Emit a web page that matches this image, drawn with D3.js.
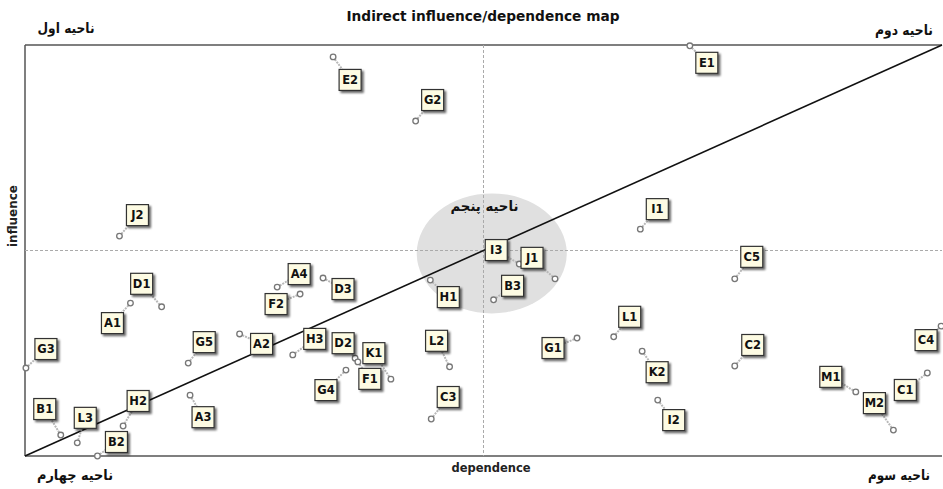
<!DOCTYPE html>
<html><head><meta charset="utf-8">
<script src="https://cdn.jsdelivr.net/npm/d3@7/dist/d3.min.js"></script>
<style>body{margin:0;background:#fff}svg{display:block}</style>
</head><body>
<svg id="c" width="943" height="489"></svg>
<script>
// ---- data ----
const variables  = ["E2","G2","E1","J2","D1","A1","A4","F2","D3","I3","J1","B3","H1","I1","C5","L1","G1","K2","I2","C2","M1","M2","C1","C4","G3","G5","A2","H3","D2","K1","F1","G4","L2","C3","A3","H2","B2","B1","L3"];
const dependence = [33.6,42.6,72.5,10.3,14.9,11.5,27.5,30.0,32.5,53.9,57.8,51.1,44.2,67.1,77.4,64.2,60.2,67.3,69.0,77.4,90.6,94.7,98.4,99.9,0.1,17.8,23.4,29.2,36.0,39.9,36.3,35.0,46.3,44.3,18.0,10.7,7.9,3.9,5.7];
const influence  = [97.1,81.5,99.8,53.5,36.3,37.2,41.1,39.4,43.3,46.7,43.1,38.0,42.8,55.2,43.1,29.0,28.7,25.5,13.6,21.9,15.6,6.3,20.2,31.6,21.4,22.6,29.7,24.6,23.8,18.7,22.9,20.9,21.7,9.0,14.8,7.3,0.0,5.1,3.2];
const zoneNames  = ["ناحیه اول","ناحیه دوم","ناحیه سوم","ناحیه چهارم","ناحیه پنجم"];
const titleText  = "Indirect influence/dependence map";
const xTitle = "dependence", yTitle = "influence";

// ---- layout (label offsets in px, relative to each point) ----
const labelDx = [17,17,17,18,-20,-18,22,-24,20,-23,-23,19,18,17,17,16,-24,15,16,18,-25,-19,-22,-15,20,16,22,22,-12,-17,12,-20,-13,17,13,15,19,-16,8];
const labelDy = [23,-21,17,-21,-23,20,-13,10,11,-14,-21,-14,17,-20,-22,-20,10,21,20,-21,-15,-27,17,14,-19,-21,10,-16,-15,-26,17,20,-26,-22,22,-25,-14,-26,-25];

const svg = d3.select("#c");
const L = 25, R = 942, T = 45, B = 456;
const x = d3.scaleLinear().domain([0,100]).range([L,R]);
const y = d3.scaleLinear().domain([0,100]).range([B,T]);
const mid = 50;

// shadow filter
const defs = svg.append("defs");
const f = defs.append("filter").attr("id","sh").attr("x","-30%").attr("y","-30%").attr("width","170%").attr("height","170%");
f.append("feGaussianBlur").attr("in","SourceAlpha").attr("stdDeviation",1.2).attr("result","b");
f.append("feOffset").attr("in","b").attr("dx",2).attr("dy",2).attr("result","o");
f.append("feComponentTransfer").attr("in","o").attr("result","o2").append("feFuncA").attr("type","linear").attr("slope",0.6);
const m = f.append("feMerge"); m.append("feMergeNode").attr("in","o2"); m.append("feMergeNode").attr("in","SourceGraphic");

// ellipse for zone 5
svg.append("ellipse").attr("cx",x(50.9)).attr("cy",y(49.3)).attr("rx",75).attr("ry",60).attr("fill","#e0e0e0");

// axes frame
svg.append("line").attr("x1",L).attr("x2",R).attr("y1",T).attr("y2",T).attr("stroke","#555").attr("stroke-width",1.5);
svg.append("line").attr("x1",L).attr("x2",R).attr("y1",B).attr("y2",B).attr("stroke","#555").attr("stroke-width",1.5);
svg.append("line").attr("x1",L).attr("x2",L).attr("y1",T).attr("y2",B).attr("stroke","#555").attr("stroke-width",1.5);

// mid dashed lines
svg.append("line").attr("x1",x(mid)).attr("x2",x(mid)).attr("y1",T).attr("y2",B).attr("stroke","#aaa").attr("stroke-dasharray","3,2");
svg.append("line").attr("x1",L).attr("x2",R).attr("y1",y(mid)).attr("y2",y(mid)).attr("stroke","#aaa").attr("stroke-dasharray","3,2");

// diagonal
svg.append("line").attr("x1",x(0)).attr("y1",y(0)).attr("x2",x(100)).attr("y2",y(100)).attr("stroke","#111").attr("stroke-width",1.6);

// data join
const data = variables.map((v,i)=>({v, dx:dependence[i], iy:influence[i], ox:labelDx[i], oy:labelDy[i]}));

// connectors
svg.append("g").selectAll("line").data(data).join("line")
  .attr("x1",d=>x(d.dx)).attr("y1",d=>y(d.iy))
  .attr("x2",d=>x(d.dx)+d.ox).attr("y2",d=>y(d.iy)+d.oy)
  .attr("stroke","#b8b8b8").attr("stroke-width",2).attr("stroke-dasharray","2,1");

// points
svg.append("g").selectAll("circle").data(data).join("circle")
  .attr("cx",d=>x(d.dx)).attr("cy",d=>y(d.iy)).attr("r",2.8)
  .attr("fill","#fff").attr("stroke","#777").attr("stroke-width",1.3);

// labels
const lg = svg.append("g").selectAll("g").data(data).join("g")
  .attr("transform",d=>`translate(${x(d.dx)+d.ox},${y(d.iy)+d.oy})`);
lg.append("rect").attr("x",-11).attr("y",-10.5).attr("width",22).attr("height",21)
  .attr("fill","#fdfbe3").attr("stroke","#333").attr("stroke-width",1.2).attr("filter","url(#sh)");
lg.append("text").attr("text-anchor","middle").attr("dy","0.36em")
  .attr("font-family","DejaVu Sans").attr("font-weight","bold").attr("font-size",11.5).attr("fill","#111")
  .text(d=>d.v);

// title & axis titles
svg.append("text").attr("x",483).attr("y",21).attr("text-anchor","middle")
  .attr("font-family","DejaVu Sans").attr("font-weight","bold").attr("font-size",14.5)
  .attr("textLength",273).attr("lengthAdjust","spacingAndGlyphs").attr("fill","#111").text(titleText);
svg.append("text").attr("x",491).attr("y",472).attr("text-anchor","middle")
  .attr("font-family","DejaVu Sans").attr("font-weight","bold").attr("font-size",11.5).attr("fill","#222").text(xTitle);
svg.append("text").attr("transform","translate(17,216) rotate(-90)").attr("text-anchor","middle")
  .attr("font-family","DejaVu Sans").attr("font-weight","bold").attr("font-size",12).attr("fill","#222").text(yTitle);

// zone labels
const zf = (t,w) => t.attr("font-family","DejaVu Sans").attr("font-weight","bold").attr("font-size",14)
  .attr("fill","#111").attr("text-anchor","middle").attr("textLength",w).attr("lengthAdjust","spacingAndGlyphs");
zf(svg.append("text").attr("x",66).attr("y",33).text(zoneNames[0]),57);
zf(svg.append("text").attr("x",904).attr("y",35).text(zoneNames[1]),58);
zf(svg.append("text").attr("x",899).attr("y",480).text(zoneNames[2]),62);
zf(svg.append("text").attr("x",75).attr("y",480).text(zoneNames[3]),76);
zf(svg.append("text").attr("x",x(50.1)).attr("y",y(59.6)).text(zoneNames[4]),68);
</script>
</body></html>
